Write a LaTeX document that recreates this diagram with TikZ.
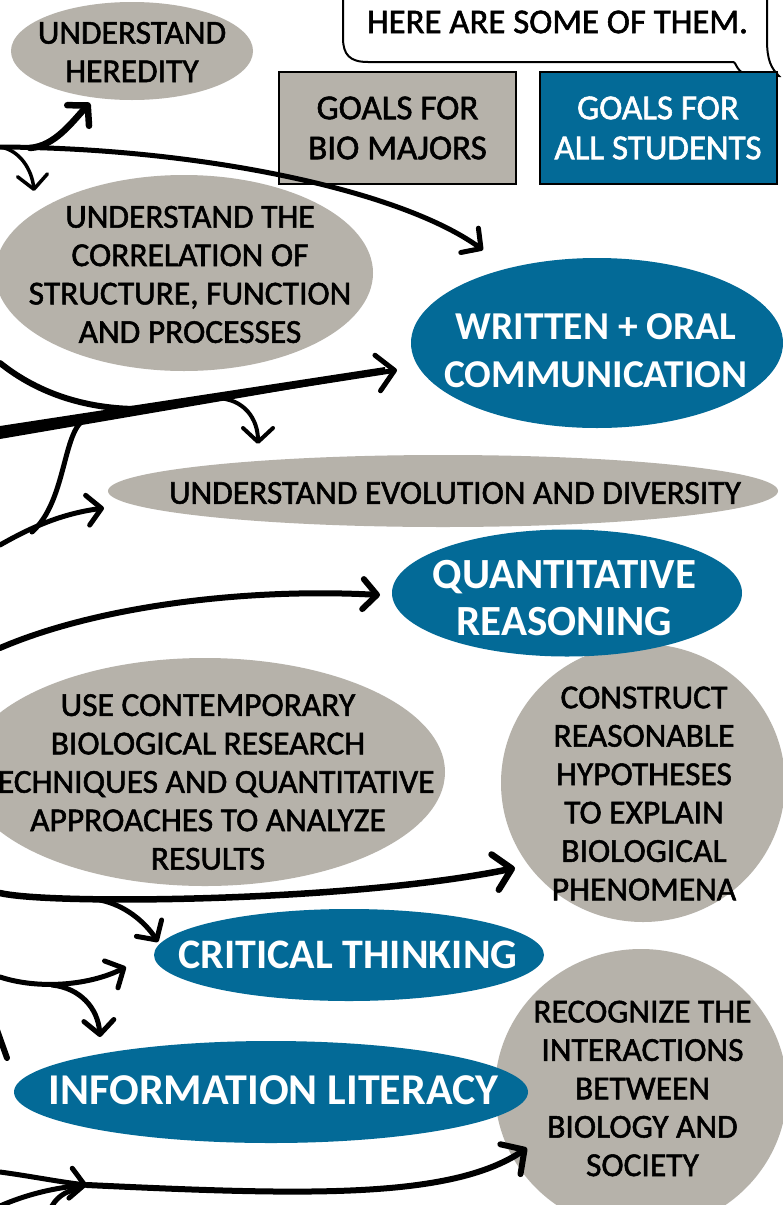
\documentclass[tikz,border=0pt]{standalone}
\usepackage{fontspec}
\setmainfont{Carlito}
\newfontfamily\heavyfont{Carlito}[FakeBold=1.6]
\usetikzlibrary{arrows.meta,calc,shapes.geometric}
\definecolor{goalgray}{RGB}{182,178,170}
\definecolor{goalblue}{RGB}{3,106,151}
\tikzset{
  gell/.style={ellipse, fill=goalgray, inner sep=0pt},
  bell/.style={ellipse, fill=goalblue, inner sep=0pt},
  gtxt/.style={align=center, text=black, inner sep=0pt, font=\heavyfont\fontsize{33.5}{38.4}\selectfont},
  btxt/.style={align=center, text=white, inner sep=0pt, font=\bfseries\fontsize{42}{48}\selectfont},
  goalbox/.style={draw=black, line width=2pt, minimum width=237pt, minimum height=112pt, inner sep=0pt, align=center, font=\heavyfont\fontsize{35}{40}\selectfont},
  line/.style={line width=5pt, line cap=round, line join=round},
  conn/.style={line, -{Straight Barb[round,length=14pt,width=30pt]}},
  bigconn/.style={line, -{Straight Barb[round,length=17pt,width=36pt]}},
}
\begin{document}
\begin{tikzpicture}[x=1pt,y=-1pt]
\useasboundingbox (0,0) rectangle (783,1205);
\fill[white] (0,0) rectangle (783,1205);

% speech bubble
\draw[line width=2pt, fill=white] (343,-10) -- (343,38) .. controls (343,55) and (350,62) .. (368,62) -- (733,62) .. controls (737,62) and (736,75) .. (752,75) -- (779,76) .. controls (771,68) and (767,60) .. (767,40) -- (767,-10);
\node[gtxt, font=\heavyfont\fontsize{34.8}{38}\selectfont] (bub) at (557.5,22) {HERE ARE SOME OF THEM.};

% legend boxes
\node[goalbox, fill=goalgray, text=black] (bio) at (397.5,128) {GOALS FOR\\BIO MAJORS};
\node[goalbox, fill=goalblue, text=white] (all) at (658,128) {GOALS FOR\\ALL STUDENTS};

% gray goals
\node[gell, minimum width=242pt, minimum height=98pt] (her) at (132,51) {};
\node[gell, minimum width=378pt, minimum height=196pt] (cor) at (184,273) {};
\node[gell, minimum width=670pt, minimum height=72pt] (evo) at (443,491) {};
\node[gell, minimum width=480pt, minimum height=228pt] (use) at (205,772) {};
\node[gell, minimum width=284pt, minimum height=278pt] (con) at (643,783) {};
\node[gell, minimum width=292pt, minimum height=282pt] (rec) at (641,1090) {};
% blue goals
\node[bell, minimum width=372pt, minimum height=170pt] (wri) at (597,343) {};
\node[bell, minimum width=350pt, minimum height=127pt] (qua) at (567,593) {};
\node[bell, minimum width=390pt, minimum height=92pt] (cri) at (349,955) {};
\node[bell, minimum width=514pt, minimum height=102pt] (inf) at (271,1092) {};

% texts
\node[gtxt] (herT) at (132,52) {UNDERSTAND\\HEREDITY};
\node[gtxt] (corT) at (190,274.5) {UNDERSTAND THE\\CORRELATION OF\\STRUCTURE, FUNCTION\\AND PROCESSES};
\node[gtxt] (evoT) at (455,493) {UNDERSTAND EVOLUTION AND DIVERSITY};
\node[gtxt] (useT) at (208,782) {USE CONTEMPORARY\\BIOLOGICAL RESEARCH\\TECHNIQUES AND QUANTITATIVE\\APPROACHES TO ANALYZE\\RESULTS};
\node[gtxt] (conT) at (644,793.5) {CONSTRUCT\\REASONABLE\\HYPOTHESES\\TO EXPLAIN\\BIOLOGICAL\\PHENOMENA};
\node[gtxt] (recT) at (642.5,1088.5) {RECOGNIZE THE\\INTERACTIONS\\BETWEEN\\BIOLOGY AND\\SOCIETY};
\node[btxt, font=\bfseries\fontsize{39.5}{48}\selectfont] (wriT) at (596,351) {WRITTEN + ORAL\\COMMUNICATION};
\node[btxt, font=\bfseries\fontsize{43}{47}\selectfont] (quaT) at (564.5,598.5) {QUANTITATIVE\\REASONING};
\node[btxt] (criT) at (348,955) {CRITICAL THINKING};
\node[btxt, font=\bfseries\fontsize{44}{48}\selectfont] (infT) at (273.5,1090) {INFORMATION LITERACY};

% free ends and junctions
\coordinate (s1) at (0,147);
\coordinate (j1) at (30,148);
\coordinate (s2) at (0,432);
\coordinate (s3) at (0,363);
\coordinate (m1) at (145,409);
\coordinate (b1) at (215,398);
\coordinate (b2) at (88,418);
\coordinate (m2) at (32,532);
\coordinate (s4) at (0,545);
\coordinate (s5) at (0,648);
\coordinate (s6) at (0,893);
\coordinate (b3) at (100,900);
\coordinate (s7) at (0,977);
\coordinate (b4) at (52,985);
\coordinate (s8) at (-3,1030);
\coordinate (e8) at (7,1058);
\coordinate (s9) at (0,1172);
\coordinate (j9) at (87,1185);
\coordinate (s10) at (0,1206);
\coordinate (s11) at (50,1210);
\coordinate (j9b) at (78,1189);

% arrow targets near the goals
\coordinate (aWri1) at ($(wri.center)+(-114,-93)$);
\coordinate (aHer) at ($(her.center)+(-42,52)$);
\coordinate (aCor) at ($(cor.center)+(-150,-82)$);
\coordinate (aWri2) at ($(wri.center)+(-200,27)$);
\coordinate (aEvo1) at ($(evo.center)+(-185,-47)$);
\coordinate (aEvo2) at ($(evo.center)+(-339,17)$);
\coordinate (aQua) at ($(qua.center)+(-187,2)$);
\coordinate (aCon) at ($(con.center)+(-128,85)$);
\coordinate (aCri1) at ($(cri.center)+(-191,-13)$);
\coordinate (aCri2) at ($(cri.center)+(-223,12)$);
\coordinate (aInf) at ($(inf.center)+(-171,-55)$);
\coordinate (aRec) at ($(rec.center)+(-114,58)$);

% connectors
\draw[conn] (s1) .. controls (200,148) and (400,190) .. (aWri1);
\draw[conn, line width=6.5pt] (j1) .. controls (55,146) and (72,122) .. (aHer);
\draw[conn, line width=3.5pt] (s1) .. controls (20,150) and (32,170) .. (aCor);
\fill (0,426) -- (385,367) -- (385,373) -- (0,439) -- cycle;
\draw[bigconn] (s2) -- (aWri2);
\draw[line, line width=6pt] (s3) .. controls (40,395) and (90,410) .. (m1);
\draw[conn, line width=4pt] (b1) .. controls (245,398) and (258,420) .. (aEvo1);
\draw[line] (b2) .. controls (62,425) and (68,500) .. (m2);
\draw[conn] (s4) .. controls (30,528) and (60,514) .. (aEvo2);
\draw[conn, line width=6pt] (s5) .. controls (100,605) and (250,588) .. (aQua);
\draw[bigconn, line width=6.5pt] (s6) .. controls (50,905) and (350,902) .. (aCon);
\draw[conn] (b3) .. controls (125,905) and (145,922) .. (aCri1);
\draw[conn] (s7) .. controls (40,990) and (90,985) .. (aCri2);
\draw[conn] (b4) .. controls (80,988) and (98,1008) .. (aInf);
\draw[line, line width=6pt] (s8) -- (e8);
\draw[conn] (s9) .. controls (30,1176) and (60,1182) .. (j9);
\draw[line] (s10) .. controls (25,1195) and (55,1187) .. (j9);
\draw[line] (s11) .. controls (55,1198) and (65,1191) .. (j9b);
\draw[bigconn, line width=6pt] (j9) .. controls (300,1195) and (450,1200) .. (aRec);
\end{tikzpicture}
\end{document}
